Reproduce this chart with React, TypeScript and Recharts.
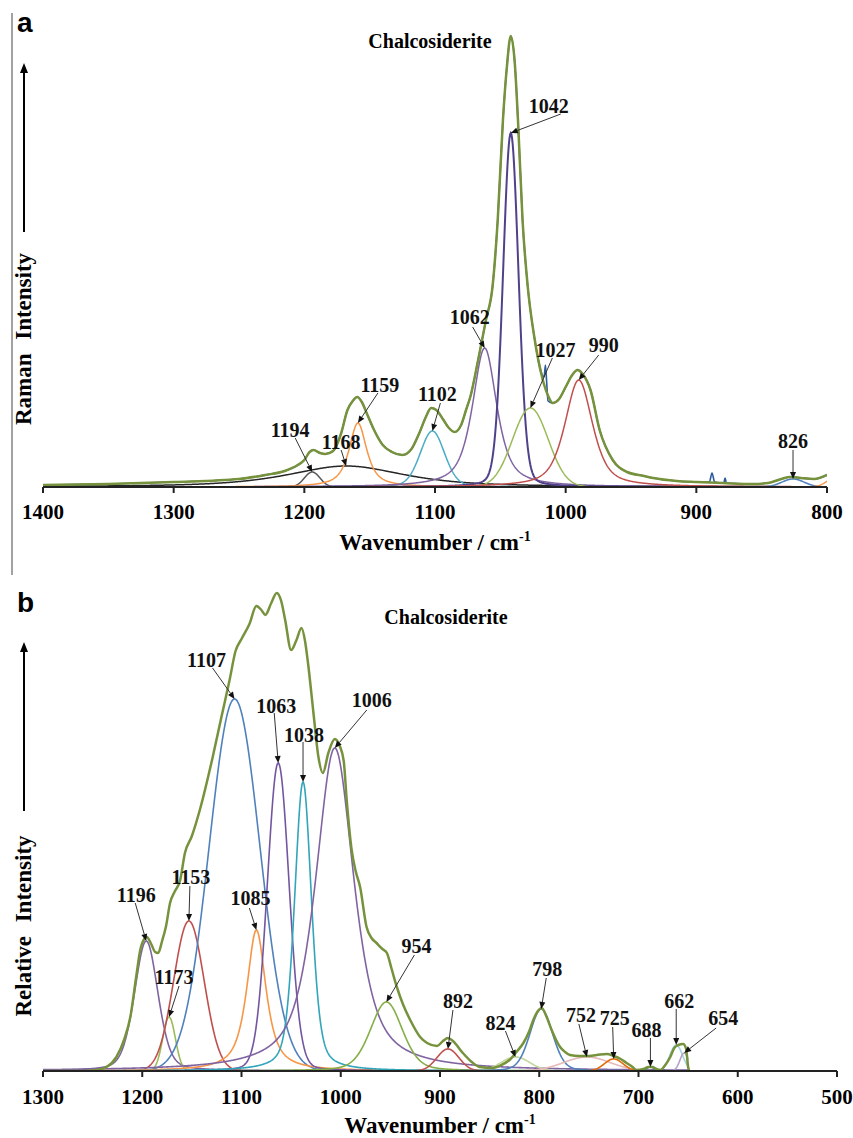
import React from 'react';
import { LineChart, Line, XAxis, YAxis, ReferenceDot } from 'recharts';

const SERIF = '"Liberation Serif", "Times New Roman", serif';
const SANS = '"Liberation Sans", Arial, sans-serif';

// ---- panel a : fitted bands (position cm-1, height, fwhm, lorentzian share)
const aCenters = [1194, 1168, 1159, 1102, 1062, 1042, 1027, 990, 826, 790];
const aHeights = [15, 21, 64, 56, 139, 354, 79, 107, 8, 14];
const aWidths = [14, 105, 16, 22, 22, 14, 32, 25, 20, 18];
const aLorentz = [0, 0.7, 0.8, 0.2, 0.7, 0.15, 0, 0.6, 0, 0];
const aColors = ['#595959', '#262626', '#F79646', '#4BACC6', '#8064A2', '#50428A', '#9BBB59', '#C0504D', '#4F81BD', '#F79646'];

// panel a : envelope
const aEnvX = [1400, 1350, 1300, 1250, 1230, 1215, 1205, 1200, 1196, 1193, 1188, 1184, 1178, 1172, 1167, 1163, 1159.5, 1156, 1152, 1147, 1140, 1133, 1125, 1118, 1112, 1107, 1103, 1099, 1094, 1090, 1085, 1080, 1076, 1073, 1067, 1061, 1056, 1052, 1048, 1045, 1042, 1039, 1036.5, 1033, 1029, 1024, 1017.5, 1013, 1010, 1005, 1000, 995, 991, 987, 981, 974, 964, 953, 940, 933, 915, 900, 880, 857, 845, 835, 828, 820, 810, 800];
const aEnvY = [2, 3, 5, 8, 12, 16, 22, 27, 35, 37, 34, 33, 36, 53, 77, 86, 90, 85, 73, 58, 42, 35, 32, 38, 54, 70, 79, 77, 68, 60, 55, 62, 78, 90, 127, 167, 200, 267, 367, 420, 451, 425, 367, 267, 200, 150, 107, 90, 84, 88, 100, 112, 117, 113, 97, 57, 27, 15, 11, 9, 6, 5, 4, 3, 4, 8, 10, 9, 8, 12];
// raw spectrum spikes that stick out of the envelope
const aSpikeX = [1016.5, 1015.5, 1014.5, 1013.5, 890, 888, 886, 879, 878, 877];
const aSpikeY = [110, 122, 104, 86, 5, 14, 5, 4, 9, 4];

// ---- panel b
const bCenters = [1196, 1173, 1153, 1107, 1085, 1063, 1038, 1006, 954, 892, 824, 798, 752, 725, 688, 662, 654];
const bHeights = [130, 54, 150, 372, 141, 308, 289, 323, 69, 22, 14, 62, 14, 12, 4, 26, 18];
const bWidths = [28, 15, 36, 60, 23, 26, 20, 46, 38, 26, 34, 27, 55, 22, 9, 15, 10];
const bLorentz = [0.3, 0, 0, 0, 0.8, 0.1, 0.4, 0.7, 0.3, 0, 0, 0.2, 0, 0, 0, 0, 0];
const bColors = ['#8064A2', '#9BBB59', '#C0504D', '#4F81BD', '#F79646', '#7356A0', '#31A5BA', '#8064A2', '#86AE48', '#C0504D', '#C3D69B', '#4F81BD', '#E6B9B8', '#E46C0A', '#31859C', '#A5D5E2', '#B3A2C7'];

const bEnvX = [1300, 1260, 1246, 1236, 1226, 1218, 1212, 1206, 1202, 1198, 1195.5, 1191, 1187, 1184, 1180, 1176, 1172, 1167, 1162, 1157, 1150, 1142, 1129, 1120, 1112, 1106, 1100, 1092, 1085, 1080, 1076, 1070, 1064.5, 1060, 1056, 1050, 1045, 1039.5, 1036, 1033, 1027.5, 1022.5, 1018, 1012.5, 1006, 1001, 997, 994, 989, 985, 980.5, 974, 969, 964, 958, 953.5, 949, 943.5, 937, 930, 920, 913, 903, 897, 892, 887, 877, 868, 860, 847, 838, 830, 823, 816, 810, 806, 802, 797.5, 793, 787.5, 783, 779, 774, 769, 760, 752, 742, 732, 725, 718, 712, 706, 702, 695, 690, 686, 682, 678, 673, 668, 664, 660, 655, 652, 650, 649];
const bEnvY = [0, 0, 1, 4, 14, 32, 54, 95, 121, 132, 134, 127, 119, 118, 130, 145, 168, 180, 190, 218, 235, 261, 314, 355, 391, 420, 432, 447, 465, 461, 456, 468, 478, 470, 451, 421, 430, 443, 430, 408, 358, 314, 298, 318, 332, 325, 310, 271, 221, 200, 184, 144, 133, 128, 122, 118, 103, 84, 66, 51, 34, 28, 25, 30, 33, 30, 18, 9, 4, 3, 6, 11, 19, 28, 40, 51, 59, 63, 55, 41, 31, 24, 19, 16, 15, 15, 16, 17, 15, 12, 8, 4, 1, 2, 4, 4, 2, 1, 6, 14, 23, 26, 27, 22, 4, 0];

// callout layout: band index, text offset and arrow start offset from the tip (px)
const aNotes = [
  { i: 5, dx: 38, dy: -27, sx: 50, sy: -19 },
  { i: 4, dx: -15, dy: -31, sx: -12, sy: -21 },
  { i: 6, dx: 25, dy: -58, sx: 22, sy: -50 },
  { i: 7, dx: 25, dy: -35, sx: 20, sy: -25 },
  { i: 3, dx: 5, dy: -37, sx: 8, sy: -28 },
  { i: 2, dx: 22, dy: -38, sx: 20, sy: -30 },
  { i: 0, dx: -22, dy: -42, sx: -17, sy: -34 },
  { i: 1, dx: -5, dy: -24, sx: -5, sy: -16 },
  { i: 8, dx: 0, dy: -38, sx: 0, sy: -29 },
];
const bNotes = [
  { i: 0, dx: -10, dy: -46, sx: -11, sy: -38 },
  { i: 1, dx: 5, dy: -40, sx: 10, sy: -31 },
  { i: 2, dx: 2, dy: -44, sx: 1, sy: -35 },
  { i: 3, dx: -28, dy: -39, sx: -22, sy: -31 },
  { i: 4, dx: -6, dy: -32, sx: -7, sy: -22 },
  { i: 5, dx: -2, dy: -57, sx: -4, sy: -50 },
  { i: 6, dx: 1, dy: -47, sx: 0, sy: -40 },
  { i: 7, dx: 37, dy: -48, sx: 32, sy: -38 },
  { i: 8, dx: 30, dy: -56, sx: 28, sy: -47 },
  { i: 9, dx: 10, dy: -48, sx: 5, sy: -39 },
  { i: 10, dx: -15, dy: -34, sx: -10, sy: -26 },
  { i: 11, dx: 6, dy: -40, sx: 5, sy: -31 },
  { i: 12, dx: -6, dy: -42, sx: -8, sy: -33 },
  { i: 13, dx: 1, dy: -41, sx: -1, sy: -32 },
  { i: 14, dx: -4, dy: -37, sx: 0, sy: -29 },
  { i: 15, dx: 3, dy: -44, sx: 0, sy: -36 },
  { i: 16, dx: 39, dy: -35, sx: 32, sy: -25 },
];

// pseudo-Voigt band shape
function band(x: number, c: number, h: number, w: number, eta: number) {
  const d = (x - c) / (w / 2);
  return h * (eta / (1 + d * d) + (1 - eta) * Math.exp(-Math.LN2 * d * d));
}

function buildRows(lo: number, hi: number, cs: number[], hs: number[], ws: number[], es: number[]) {
  const rows: any[] = [];
  for (let x = lo; x <= hi; x += 0.5) {
    const r: any = { x };
    cs.forEach((c, k) => { r['b' + k] = band(x, c, hs[k], ws[k], es[k]); });
    rows.push(r);
  }
  return rows;
}

const pts = (xs: number[], ys: number[]) => xs.map((x, k) => ({ x, y: ys[k] }));

const aRows = buildRows(800, 1400, aCenters, aHeights, aWidths, aLorentz);
const bRows = buildRows(650, 1300, bCenters, bHeights, bWidths, bLorentz);
const aEnv = pts(aEnvX, aEnvY);
const bEnv = pts(bEnvX, bEnvY);
const aSpectrum = [...aEnv.filter((p) => !(p.x > 1012 && p.x < 1018)), ...pts(aSpikeX, aSpikeY)].sort((p, q) => q.x - p.x);

function Callout(props: any) {
  const { cx, cy, note, label } = props;
  if (cx == null || cy == null) return null;
  const x0 = cx + note.sx, y0 = cy + note.sy;
  const vx = cx - x0, vy = cy - y0;
  const len = Math.sqrt(vx * vx + vy * vy) || 1;
  const ux = vx / len, uy = vy / len;
  const hl = 7, hw = 3;
  const bx = cx - ux * hl, by = cy - uy * hl;
  return (
    <g>
      <line x1={x0} y1={y0} x2={bx} y2={by} stroke="#333" strokeWidth={1} />
      <polygon points={`${cx},${cy} ${bx - uy * hw},${by + ux * hw} ${bx + uy * hw},${by - ux * hw}`} fill="#111" />
      <text x={cx + note.dx} y={cy + note.dy} dy="0.35em" textAnchor="middle" fontFamily={SERIF} fontWeight={700} fontSize={20} fill="#111">
        {label}
      </text>
    </g>
  );
}

const tickStyle = { fontFamily: SERIF, fontSize: 21, fontWeight: 700, fill: '#000' };

export default function App() {
  return (
    <div style={{ position: 'absolute', left: 0, top: 0, width: 853, height: 1138, background: '#fff', overflow: 'hidden' }}>
      <div style={{ position: 'absolute', left: 0, top: 0 }}>
        <LineChart width={853} height={570} data={aRows} margin={{ top: 13, right: 26, left: 43, bottom: 0 }}>
          <XAxis type="number" dataKey="x" domain={[800, 1400]} ticks={[1400, 1300, 1200, 1100, 1000, 900, 800]} reversed allowDataOverflow interval={0}
            height={83} tickSize={6} tickMargin={11} axisLine={{ stroke: '#222', strokeWidth: 2 }} tickLine={{ stroke: '#222', strokeWidth: 2 }} tick={tickStyle} />
          <YAxis type="number" domain={[0, 474]} width={0} tick={false} tickLine={false} allowDataOverflow axisLine={{ stroke: '#222', strokeWidth: 1.5 }} />
          <Line data={[{ x: 1400, y: 0 }, { x: 800, y: 0 }]} dataKey="y" stroke="#93CDDD" strokeWidth={2} dot={false} isAnimationActive={false} />
          {aCenters.map((c, k) => (
            <Line key={c} dataKey={'b' + k} type="linear" stroke={aColors[k]} strokeWidth={k === 5 ? 2 : 1.5} dot={false} isAnimationActive={false} />
          ))}
          <Line data={aSpectrum} dataKey="y" type="monotone" stroke="#2E5A9C" strokeWidth={1.6} dot={false} isAnimationActive={false} />
          <Line data={aEnv} dataKey="y" type="monotone" stroke="#76923C" strokeWidth={2.5} dot={false} isAnimationActive={false} />
          {aNotes.map((n) => (
            <ReferenceDot key={'a' + n.i} x={aCenters[n.i]} y={aHeights[n.i]} ifOverflow="visible"
              shape={(p: any) => <Callout {...p} note={n} label={String(aCenters[n.i])} />} />
          ))}
        </LineChart>
      </div>
      <div style={{ position: 'absolute', left: 0, top: 570 }}>
        <LineChart width={853} height={568} data={bRows} margin={{ top: 20, right: 16, left: 43, bottom: 0 }}>
          <XAxis type="number" dataKey="x" domain={[500, 1300]} ticks={[1300, 1200, 1100, 1000, 900, 800, 700, 600, 500]} reversed allowDataOverflow interval={0}
            height={67} tickSize={6} tickMargin={12} axisLine={{ stroke: '#222', strokeWidth: 2 }} tickLine={{ stroke: '#222', strokeWidth: 2 }} tick={tickStyle} />
          <YAxis type="number" domain={[0, 481]} width={0} tick={false} tickLine={false} allowDataOverflow axisLine={{ stroke: '#222', strokeWidth: 1.5 }} />
          <Line data={[{ x: 1300, y: 0 }, { x: 650, y: 0 }]} dataKey="y" stroke="#B7DEE8" strokeWidth={2.5} dot={false} isAnimationActive={false} />
          {bCenters.map((c, k) => (
            <Line key={c} dataKey={'b' + k} type="linear" stroke={bColors[k]} strokeWidth={1.6} dot={false} isAnimationActive={false} />
          ))}
          <Line data={bEnv} dataKey="y" type="monotone" stroke="#76923C" strokeWidth={2.5} dot={false} isAnimationActive={false} />
          {bNotes.map((n) => (
            <ReferenceDot key={'b' + n.i} x={bCenters[n.i]} y={bHeights[n.i]} ifOverflow="visible"
              shape={(p: any) => <Callout {...p} note={n} label={String(bCenters[n.i])} />} />
          ))}
        </LineChart>
      </div>
      <svg width={853} height={1138} style={{ position: 'absolute', left: 0, top: 0, pointerEvents: 'none' }}>
        <line x1={12} y1={13} x2={12} y2={575} stroke="#444" strokeWidth={1} />
        <text x={17} y={32} fontFamily={SANS} fontWeight={700} fontSize={28}>a</text>
        <text x={17} y={612} fontFamily={SANS} fontWeight={700} fontSize={28}>b</text>
        <text x={430} y={48} textAnchor="middle" fontFamily={SERIF} fontWeight={700} fontSize={20}>Chalcosiderite</text>
        <text x={446} y={624} textAnchor="middle" fontFamily={SERIF} fontWeight={700} fontSize={20}>Chalcosiderite</text>
        <text x={435} y={550} textAnchor="middle" fontFamily={SERIF} fontWeight={700} fontSize={23}>
          Wavenumber / cm<tspan dy={-9} fontSize={14}>-1</tspan>
        </text>
        <text x={440} y={1133} textAnchor="middle" fontFamily={SERIF} fontWeight={700} fontSize={23}>
          Wavenumber / cm<tspan dy={-9} fontSize={14}>-1</tspan>
        </text>
        <text transform="translate(31,339) rotate(-90)" textAnchor="middle" fontFamily={SERIF} fontWeight={700} fontSize={23} wordSpacing={8}>Raman Intensity</text>
        <text transform="translate(31,926) rotate(-90)" textAnchor="middle" fontFamily={SERIF} fontWeight={700} fontSize={23} wordSpacing={8}>Relative Intensity</text>
        <line x1={24} y1={232} x2={24} y2={72} stroke="#000" strokeWidth={2} />
        <polygon points="24,63 20,73 28,73" fill="#000" />
        <line x1={24} y1={811} x2={24} y2={651} stroke="#000" strokeWidth={2} />
        <polygon points="24,642 20,652 28,652" fill="#000" />
      </svg>
    </div>
  );
}
